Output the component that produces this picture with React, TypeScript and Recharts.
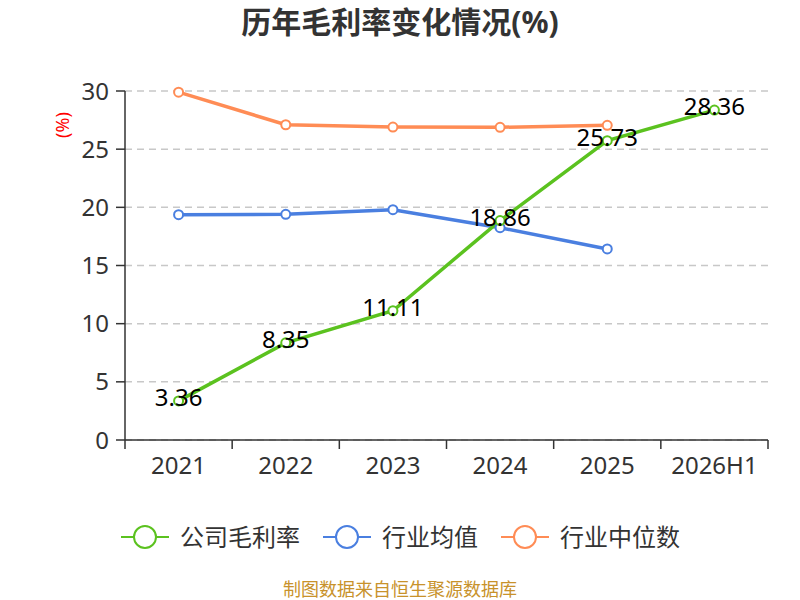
import React from 'react';
import { LineChart, Line, XAxis, YAxis, CartesianGrid } from 'recharts';

const categories = ['2021', '2022', '2023', '2024', '2025', '2026H1'];
const companyMargin = [3.36, 8.35, 11.11, 18.86, 25.73, 28.36];
const industryAvg = [19.37, 19.4, 19.8, 18.25, 16.42, null];
const industryMedian = [29.9, 27.1, 26.9, 26.88, 27.05, null];
const yTicks = [0, 5, 10, 15, 20, 25, 30];

const GREEN = '#5bc21f';
const BLUE = '#4a7fe0';
const ORANGE = '#ff8c55';
const FONT = '"Noto Sans", "Noto Sans CJK SC", sans-serif';

const data = categories.map((c, i) => ({
  x: i + 0.5,
  name: c,
  company: companyMargin[i],
  avg: industryAvg[i],
  median: industryMedian[i],
}));

const xTicks: number[] = [];
for (let i = 0; i <= categories.length * 2; i++) xTicks.push(i / 2);

const XTick = (props: any) => {
  const { x, y, payload } = props;
  const v = payload.value as number;
  if (Number.isInteger(v)) {
    return <line x1={x} x2={x} y1={y} y2={y + 9} stroke="#333" strokeWidth={1.5} />;
  }
  const label = categories[Math.floor(v)];
  return (
    <text x={x} y={y + 34} textAnchor="middle" fontSize={24} fill="#333" fontFamily={FONT}>
      {label}
    </text>
  );
};

const ValueLabel = (props: any) => {
  const { x, y, value } = props;
  if (value == null) return null;
  return (
    <text x={x} y={y + 5} textAnchor="middle" fontSize={24} fill="#000" fontFamily={FONT}>
      {value}
    </text>
  );
};

const legendItems = [
  { label: '公司毛利率', color: GREEN },
  { label: '行业均值', color: BLUE },
  { label: '行业中位数', color: ORANGE },
];

const LegendContent = () => (
  <div style={{ display: 'flex', justifyContent: 'center', alignItems: 'center', fontFamily: FONT }}>
    {legendItems.map((it, i) => (
      <div key={it.label} style={{ display: 'flex', alignItems: 'center', marginLeft: i === 0 ? 0 : 22 }}>
        <svg width={50} height={26}>
          <line x1={1} x2={49} y1={13} y2={13} stroke={it.color} strokeWidth={2} />
          <circle cx={25} cy={13} r={11} fill="#fff" stroke={it.color} strokeWidth={2} />
        </svg>
        <span style={{ fontSize: 24, color: '#333', marginLeft: 10, lineHeight: '30px' }}>{it.label}</span>
      </div>
    ))}
  </div>
);

export default function App() {
  return (
    <div style={{ position: 'absolute', left: 0, top: 0, width: 800, height: 600, background: '#fff', fontFamily: FONT, overflow: 'hidden' }}>
      <div
        style={{
          position: 'absolute',
          top: 1,
          left: 0,
          width: 800,
          textAlign: 'center',
          fontSize: 30,
          fontWeight: 'bold',
          color: '#333',
          fontFamily: FONT,
          lineHeight: '42px',
        }}
      >
        历年毛利率变化情况(%)
      </div>
      <div
        style={{
          position: 'absolute',
          left: 47,
          top: 111,
          width: 30,
          height: 28,
          color: 'red',
          fontSize: 18,
          transform: 'rotate(-90deg)',
          transformOrigin: 'center',
          textAlign: 'center',
          lineHeight: '28px',
          whiteSpace: 'nowrap',
        }}
      >
        (%)
      </div>
      <div style={{ position: 'absolute', left: 0, top: 522, width: 800 }}>
        <LegendContent />
      </div>
      <div
        style={{
          position: 'absolute',
          left: 0,
          top: 579,
          width: 800,
          textAlign: 'center',
          fontSize: 18,
          color: '#c8922b',
          lineHeight: '20px',
        }}
      >
        制图数据来自恒生聚源数据库
      </div>
      <LineChart
        width={800}
        height={600}
        data={data}
        margin={{ top: 91, right: 32, bottom: 100, left: 0 }}
        style={{ position: 'absolute', left: 0, top: 0 }}
      >
        <CartesianGrid horizontal vertical={false} stroke="#c8c8c8" strokeDasharray="7 5" strokeWidth={1.5} />
        <XAxis
          dataKey="x"
          type="number"
          domain={[0, categories.length]}
          ticks={xTicks}
          interval={0}
          tickSize={0}
          tickMargin={0}
          tickLine={false}
          tick={<XTick />}
          axisLine={{ stroke: '#333', strokeWidth: 1.5 }}
          height={60}
          allowDecimals
        />
        <YAxis
          width={125}
          domain={[0, 30]}
          ticks={yTicks}
          interval={0}
          tickSize={9}
          tickMargin={7}
          tick={{ fontSize: 24, fill: '#333', fontFamily: FONT }}
          tickLine={{ stroke: '#333', strokeWidth: 1.5 }}
          axisLine={{ stroke: '#333', strokeWidth: 1.5 }}
        />
        <Line
          type="linear"
          dataKey="median"
          stroke={ORANGE}
          strokeWidth={3.5}
          dot={{ r: 4.5, fill: '#fff', stroke: ORANGE, strokeWidth: 2 }}
          isAnimationActive={false}
          connectNulls={false}
        />
        <Line
          type="linear"
          dataKey="avg"
          stroke={BLUE}
          strokeWidth={3.5}
          dot={{ r: 4.5, fill: '#fff', stroke: BLUE, strokeWidth: 2 }}
          isAnimationActive={false}
          connectNulls={false}
        />
        <Line
          type="linear"
          dataKey="company"
          stroke={GREEN}
          strokeWidth={3.5}
          dot={{ r: 4.5, fill: '#fff', stroke: GREEN, strokeWidth: 2 }}
          label={<ValueLabel />}
          isAnimationActive={false}
        />
      </LineChart>
    </div>
  );
}
